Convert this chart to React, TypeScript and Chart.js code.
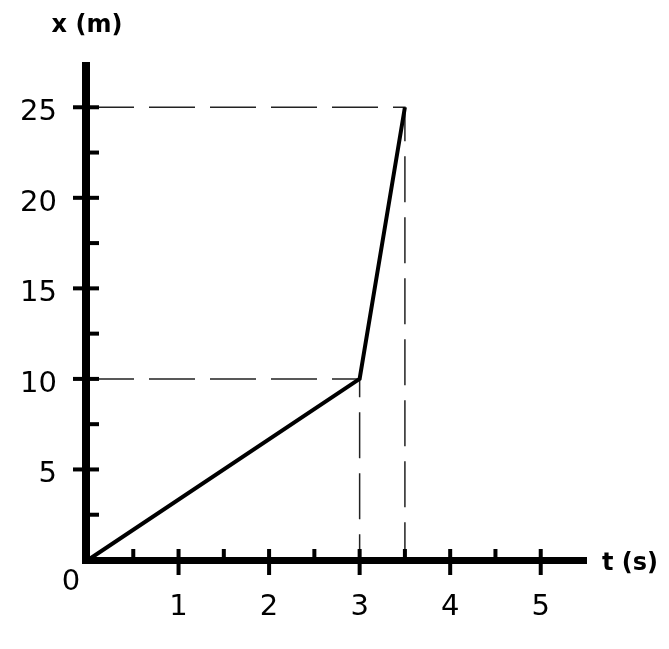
import React, { useEffect, useRef } from "react";
import { Chart, registerables } from "chart.js";

Chart.register(...registerables);

// ---- data ----
const pathT = [0, 3, 3.5];
const pathX = [0, 10, 25];
const guideT = [3, 3.5];
const guideX = [10, 25];
const xMajorTicks = [1, 2, 3, 4, 5];
const xMinorTicks = [0.5, 1.5, 2.5, 3.5, 4.5];
const yMajorTicks = [5, 10, 15, 20, 25];
const yMinorTicks = [2.5, 7.5, 12.5, 17.5, 22.5];
const xTickLabels = ["1", "2", "3", "4", "5"];
const yTickLabels = ["5", "10", "15", "20", "25"];
const originLabel = "0";
const xTitle = "t (s)";
const yTitle = "x (m)";
const xMin = 0;
const xMax = 5.5;
const yMin = 0;
const yMax = 27.5;

const axesPlugin = {
  id: "handAxes",
  afterDraw(chart: any) {
    const ctx = chart.ctx as CanvasRenderingContext2D;
    const xs = chart.scales.x;
    const ys = chart.scales.y;
    const x0 = xs.getPixelForValue(0);
    const y0 = ys.getPixelForValue(0);
    const xEnd = xs.getPixelForValue(xMax);
    const yTop = ys.getPixelForValue(yMax);
    ctx.save();
    ctx.fillStyle = "#000";
    ctx.strokeStyle = "#000";
    // axes
    ctx.fillRect(x0 - 6, yTop, 8, y0 + 4 - yTop);
    ctx.fillRect(x0 - 6, y0 - 3, xEnd + 1 - (x0 - 6), 7);
    // y ticks
    yMajorTicks.forEach((v) => {
      const p = ys.getPixelForValue(v);
      ctx.fillRect(x0 - 15, p - 2, 26, 4);
    });
    yMinorTicks.forEach((v) => {
      const p = ys.getPixelForValue(v);
      ctx.fillRect(x0, p - 2, 11, 4);
    });
    // x ticks
    xMajorTicks.forEach((v) => {
      const p = xs.getPixelForValue(v);
      ctx.fillRect(p - 2, y0 - 11, 4, 26);
    });
    xMinorTicks.forEach((v) => {
      const p = xs.getPixelForValue(v);
      ctx.fillRect(p - 2, y0 - 11, 4, 11);
    });
    // tick labels
    const c: any = ctx;
    c.fontStretch = "condensed";
    ctx.font = '29px "DejaVu Sans"';
    ctx.textBaseline = "alphabetic";
    ctx.textAlign = "right";
    yMajorTicks.forEach((v, i) => {
      const p = ys.getPixelForValue(v);
      ctx.fillText(yTickLabels[i], x0 - 31, p + 13);
    });
    ctx.textAlign = "center";
    xMajorTicks.forEach((v, i) => {
      const p = xs.getPixelForValue(v);
      ctx.fillText(xTickLabels[i], p, y0 + 55);
    });
    ctx.fillText(originLabel, x0 - 17, y0 + 30);
    // titles
    c.fontStretch = "normal";
    ctx.font = 'bold 24px "DejaVu Sans"';
    ctx.textAlign = "center";
    ctx.fillText(yTitle, x0 - 1, yTop - 30);
    ctx.textAlign = "left";
    ctx.fillText(xTitle, xEnd + 16, y0 + 10);
    ctx.restore();
  },
};

export default function App() {
  const ref = useRef<HTMLCanvasElement | null>(null);
  useEffect(() => {
    document.body.style.margin = "0";
    const canvas = ref.current!;
    const guides = guideT.map((t, i) => ({
      data: [
        { x: 0, y: guideX[i] },
        { x: t, y: guideX[i] },
        { x: t, y: 0 },
      ],
      showLine: true,
      borderColor: "#222",
      borderWidth: 1.5,
      borderDash: [46, 15],
      pointRadius: 0,
      fill: false,
      order: 2,
    }));
    const chart = new Chart(canvas, {
      type: "scatter",
      data: {
        datasets: [
          {
            data: pathT.map((t, i) => ({ x: t, y: pathX[i] })),
            showLine: true,
            borderColor: "#000",
            borderWidth: 4,
            pointRadius: 0,
            fill: false,
            order: 1,
            borderJoinStyle: "miter",
          } as any,
          ...guides,
        ],
      },
      options: {
        responsive: false,
        animation: false,
        devicePixelRatio: 1,
        layout: { padding: { left: 88, right: 83, top: 62, bottom: 89 } },
        plugins: { legend: { display: false }, tooltip: { enabled: false } },
        scales: {
          x: { type: "linear", min: xMin, max: xMax, display: false },
          y: { type: "linear", min: yMin, max: yMax, display: false },
        },
      },
      plugins: [axesPlugin],
    });
    return () => chart.destroy();
  }, []);
  return (
    <div style={{ width: 669, height: 649, background: "#fff" }}>
      <canvas ref={ref} width={669} height={649} />
    </div>
  );
}
